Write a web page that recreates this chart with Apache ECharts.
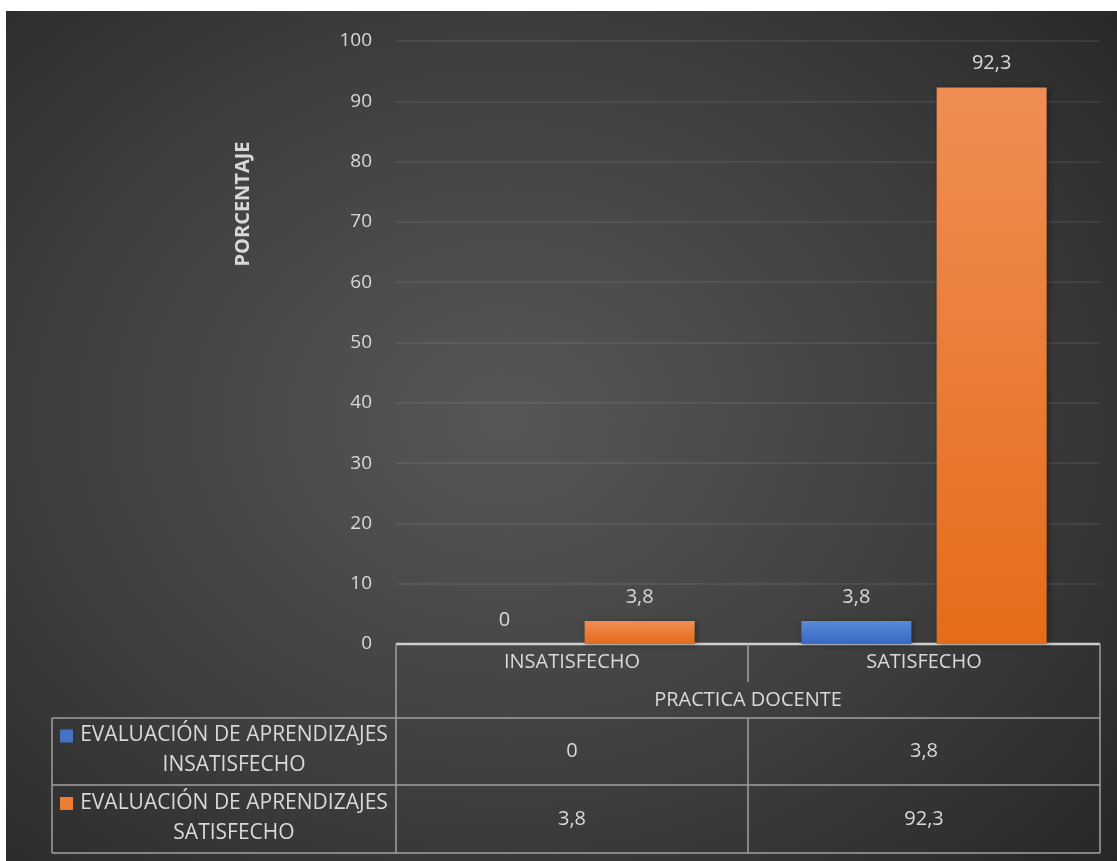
<!DOCTYPE html>
<html><head><meta charset="utf-8">
<script src="https://cdn.jsdelivr.net/npm/echarts@6/dist/echarts.min.js"></script>
<style>
html,body{margin:0;padding:0;background:#fff;}
#bg{position:absolute;left:6px;top:11px;width:1111px;height:850px;
background:radial-gradient(ellipse 75% 80% at 45% 48%, #575757 0%, #3e3e3e 55%, #262626 100%);}
#chart{position:absolute;left:0;top:0;width:1117px;height:861px;}
</style></head>
<body><div id="bg"></div><div id="chart"></div>
<script>
const categories = ['INSATISFECHO', 'SATISFECHO'];
const groupTitle = 'PRACTICA DOCENTE';
const seriesNames = ['EVALUACIÓN DE APRENDIZAJES INSATISFECHO', 'EVALUACIÓN DE APRENDIZAJES SATISFECHO'];
const legendLine1 = ['EVALUACIÓN DE APRENDIZAJES', 'EVALUACIÓN DE APRENDIZAJES'];
const legendLine2 = ['INSATISFECHO', 'SATISFECHO'];
const insatisfecho = [0, 3.8];
const satisfecho = [3.8, 92.3];
const yTicks = [0, 10, 20, 30, 40, 50, 60, 70, 80, 90, 100];
const yTitle = 'PORCENTAJE';

const txt = '#d9d9d9';
const font = '"Open Sans", "Noto Sans", sans-serif';
const fmt = v => String(v).replace('.', ',');
const blueGrad = new echarts.graphic.LinearGradient(0,0,0,1,[{offset:0,color:'#5b8ad6'},{offset:1,color:'#3768c6'}]);
const orangeGrad = new echarts.graphic.LinearGradient(0,0,0,1,[{offset:0,color:'#f08d54'},{offset:1,color:'#e46c19'}]);
const seriesData = [insatisfecho, satisfecho];
const seriesColors = [blueGrad, orangeGrad];
const keyColors = ['#4472c4', '#ed7d31'];

const chart = echarts.init(document.getElementById('chart'));
chart.setOption({
  animation: false,
  grid: {left: 396, right: 17, top: 41, bottom: 217},
  xAxis: {
    type: 'category', data: categories,
    axisLine: {show: false}, axisTick: {show: false}, axisLabel: {show: false}
  },
  yAxis: {
    type: 'value', min: yTicks[0], max: yTicks[yTicks.length-1], interval: 10,
    axisLine: {show: false}, axisTick: {show: false},
    axisLabel: {color: txt, fontSize: 19, fontFamily: font, margin: 24},
    splitLine: {lineStyle: {color: 'rgba(255,255,255,0.09)', width: 1.5}}
  },
  series: seriesData.map((d, i) => ({
    type: 'bar', name: seriesNames[i], data: d,
    barWidth: 110, barGap: '23%',
    itemStyle: {color: seriesColors[i], shadowColor: 'rgba(0,0,0,0.35)', shadowBlur: 6, shadowOffsetX: 2, shadowOffsetY: 1},
    label: {show: true, position: 'top', distance: 14, color: txt, fontSize: 20, fontFamily: font,
      formatter: p => fmt(p.value)}
  }))
});

function buildTable() {
  const c0 = chart.convertToPixel({xAxisIndex: 0}, categories[0]);
  const c1 = chart.convertToPixel({xAxisIndex: 0}, categories[1]);
  const bw = c1 - c0;
  const colX = [c0 - bw/2, c0 + bw/2, c1 + bw/2];
  const y0 = chart.convertToPixel({yAxisIndex: 0}, 0);
  const leftX = 52;
  const rows = [y0, y0 + 38, y0 + 74, y0 + 141, y0 + 209];
  const lc = '#a0a0a0';
  const els = [];
  const line = (x1,y1,x2,y2,c,w) => els.push({type:'line', shape:{x1,y1,x2,y2}, style:{stroke:c||lc, lineWidth:w||1.5}, silent:true});
  line(colX[0], rows[0], colX[2], rows[0], '#cfcfcf', 2.5);
  line(leftX, rows[2], colX[2], rows[2]);
  line(leftX, rows[3], colX[2], rows[3]);
  line(leftX, rows[4], colX[2], rows[4]);
  line(colX[0], rows[0], colX[0], rows[4]);
  line(colX[2], rows[0], colX[2], rows[4]);
  line(colX[1], rows[0], colX[1], rows[1]);
  line(colX[1], rows[2], colX[1], rows[4]);
  line(leftX, rows[2], leftX, rows[4]);
  const text = (x, y, s, size) => els.push({type:'text', x, y, silent:true,
    style:{text:s, fill:txt, font:(size||20) + 'px ' + font, textAlign:'center', textVerticalAlign:'middle'}});
  categories.forEach((c, i) => text((colX[i] + colX[i+1]) / 2, rows[0] + 18, c));
  text((colX[0] + colX[2]) / 2, (rows[1] + rows[2]) / 2, groupTitle);
  seriesData.forEach((d, r) => {
    const yc = (rows[2 + r] + rows[3 + r]) / 2;
    d.forEach((v, i) => text((colX[i] + colX[i+1]) / 2, yc, fmt(v)));
    els.push({type:'rect', shape:{x: leftX + 8, y: yc - 22, width: 13, height: 13}, style:{fill: keyColors[r]}, silent:true});
    text(234, yc - 16, legendLine1[r], 21);
    text(234, yc + 14, legendLine2[r], 21);
  });
  els.push({type:'text', x: 243, y: 204, rotation: Math.PI/2, silent:true,
    style:{text: yTitle, fill: txt, font: 'bold 20px ' + font, textAlign:'center', textVerticalAlign:'middle'}});
  chart.setOption({graphic: {elements: els}});
}
buildTable();
</script>
</body></html>
